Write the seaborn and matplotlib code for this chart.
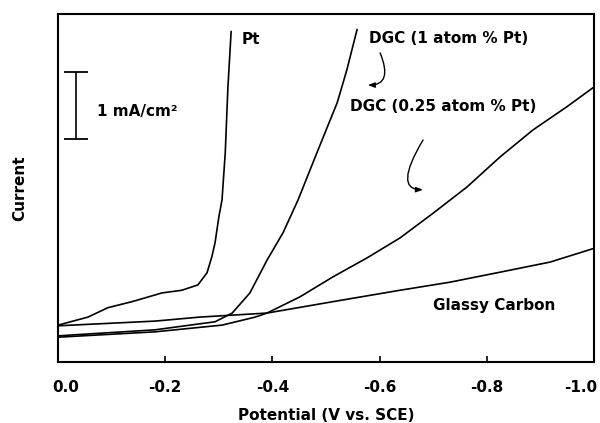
import matplotlib
matplotlib.use("Agg")
import matplotlib.pyplot as plt
import matplotlib.transforms as mtransforms
import seaborn as sns
import numpy as np

# potential (V vs. SCE) and current (mA/cm2, arbitrary offset)
pt_v = [0.0, -0.056, -0.093, -0.138, -0.194, -0.231, -0.261, -0.278, -0.287, -0.293, -0.300, -0.306, -0.312, -0.317, -0.323]
pt_i = [0.55, 0.67, 0.81, 0.90, 1.03, 1.07, 1.15, 1.33, 1.57, 1.78, 2.16, 2.42, 3.12, 4.10, 4.93]

gc_v = [0.0, -0.181, -0.265, -0.390, -0.513, -0.638, -0.731, -0.825, -0.918, -0.998]
gc_i = [0.54, 0.61, 0.67, 0.73, 0.90, 1.07, 1.19, 1.34, 1.49, 1.69]

dgc1_v = [0.0, -0.181, -0.293, -0.325, -0.358, -0.390, -0.420, -0.448, -0.483, -0.521, -0.539, -0.558]
dgc1_i = [0.39, 0.48, 0.60, 0.73, 1.03, 1.52, 1.93, 2.42, 3.12, 3.87, 4.36, 4.96]

dgc025_v = [0.0, -0.181, -0.306, -0.368, -0.390, -0.451, -0.513, -0.576, -0.638, -0.700, -0.763, -0.825, -0.886, -0.950, -0.998]
dgc025_i = [0.37, 0.45, 0.55, 0.67, 0.73, 0.97, 1.27, 1.55, 1.85, 2.22, 2.61, 3.06, 3.46, 3.81, 4.09]

x_ticks = [0.0, -0.2, -0.4, -0.6, -0.8, -1.0]
x_ticklabels = ["0.0", "-0.2", "-0.4", "-0.6", "-0.8", "-1.0"]

sns.set_style("ticks")
plt.rcParams["font.family"] = ["DejaVu Sans"]
plt.rcParams["font.weight"] = "bold"
plt.rcParams["text.color"] = "black"
plt.rcParams["axes.labelcolor"] = "black"
plt.rcParams["xtick.color"] = "black"
plt.rcParams["xtick.labelcolor"] = "black"
FS = 11

fig = plt.figure(figsize=(6.0, 4.23), dpi=100)
ax = fig.add_axes([0.0967, 0.1442, 0.8933, 0.8227])

for xs, ys in [(pt_v, pt_i), (gc_v, gc_i), (dgc1_v, dgc1_i), (dgc025_v, dgc025_i)]:
    sns.lineplot(x=xs, y=ys, ax=ax, color="black", linewidth=1.2, sort=False, estimator=None)

ax.set_xlim(0.0, -1.0)
ax.set_ylim(0, 5.19)
ax.set_xticks(x_ticks)
ax.set_xticklabels(x_ticklabels, fontsize=FS, fontweight="bold")
ax.set_yticks([])
ax.tick_params(axis="x", direction="in", length=4, width=1.2, pad=13)
for s in ax.spines.values():
    s.set_linewidth(1.5)
    s.set_color("black")

# nudge the two end labels like in the original print
labels = ax.get_xticklabels()
labels[0].set_transform(labels[0].get_transform() + mtransforms.ScaledTranslation(8 / 100, 0, fig.dpi_scale_trans))
labels[-1].set_transform(labels[-1].get_transform() + mtransforms.ScaledTranslation(-13 / 100, 0, fig.dpi_scale_trans))

ax.set_xlabel("Potential (V vs. SCE)", fontsize=FS, fontweight="bold", labelpad=9)
ax.set_ylabel("Current", fontsize=FS, fontweight="bold", labelpad=22)

# scale bar
ax.errorbar(x=-0.034, y=3.83, yerr=0.5, color="black", capsize=8.3, capthick=1.3, elinewidth=1.2)
ax.text(-0.073, 3.73, "1 mA/cm²", fontsize=FS, fontweight="bold", va="center", ha="left")

txt = dict(fontsize=FS, fontweight="bold", va="center", ha="left")
ax.text(-0.343, 4.81, "Pt", **txt)
ax.text(-0.580, 4.82, "DGC (1 atom % Pt)", **txt)
ax.text(-0.545, 3.81, "DGC (0.25 atom % Pt)", **txt)
ax.text(-0.700, 0.85, "Glassy Carbon", **txt)

arrow = dict(arrowstyle="-|>,head_length=0.4,head_width=0.15", color="black", lw=1.0, shrinkA=0, shrinkB=0)
ax.annotate("", xy=(-0.578, 4.13), xytext=(-0.601, 4.61),
            arrowprops=dict(connectionstyle="angle3,angleA=-68,angleB=0", **arrow))
ax.annotate("", xy=(-0.681, 2.57), xytext=(-0.681, 3.31),
            arrowprops=dict(connectionstyle="angle3,angleA=59,angleB=0", **arrow))

fig.savefig("out.png", dpi=100)
